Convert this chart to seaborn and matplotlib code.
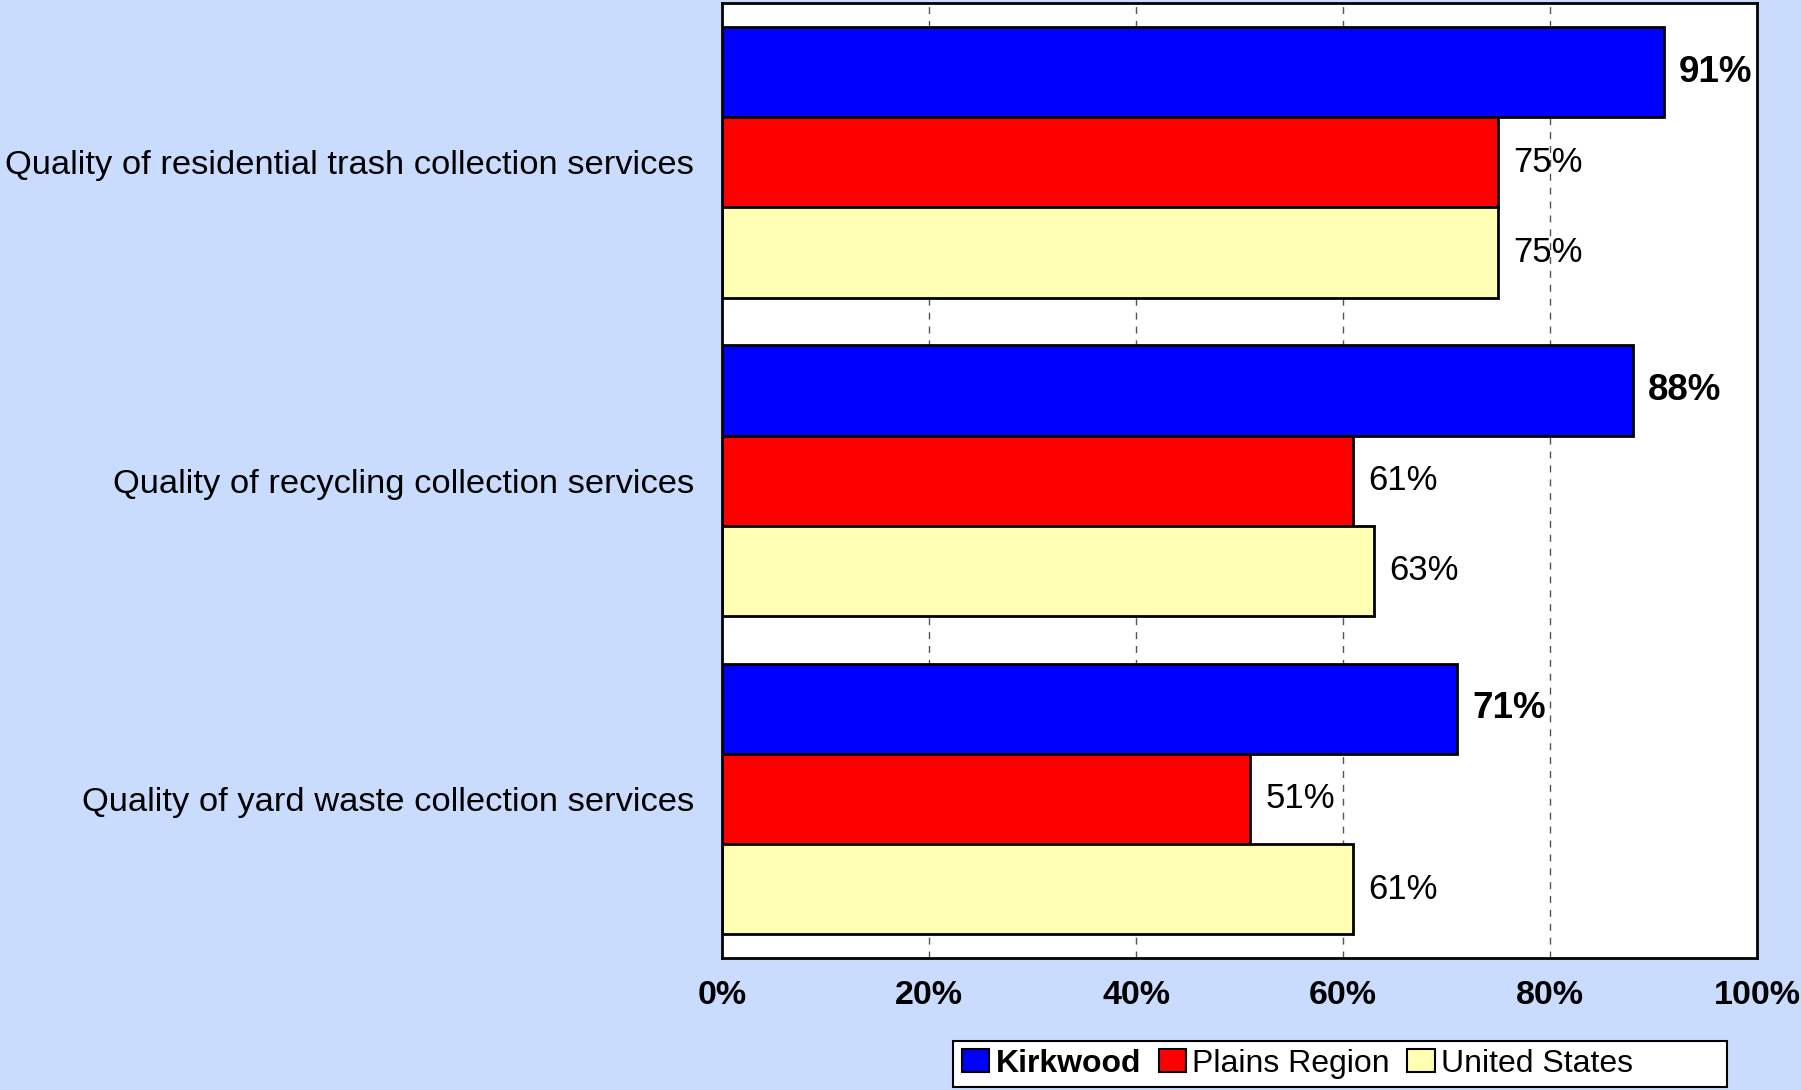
import matplotlib
matplotlib.use("Agg")
import matplotlib.pyplot as plt
import seaborn as sns
import pandas as pd
from matplotlib.patches import Patch, Rectangle

# Survey results: percent rating each service as excellent or good
services = [
    "Quality of residential trash collection services",
    "Quality of recycling collection services",
    "Quality of yard waste collection services",
]
areas = ["Kirkwood", "Plains Region", "United States"]
kirkwood = [91, 88, 71]
plains_region = [75, 61, 51]
united_states = [75, 63, 61]
x_ticks = [0, 20, 40, 60, 80, 100]
x_tick_labels = ["0%", "20%", "40%", "60%", "80%", "100%"]

colors = ["#0000FF", "#FF0000", "#FFFFB3"]
bg = "#C9DCFE"

rows = []
for area, vals in zip(areas, [kirkwood, plains_region, united_states]):
    for svc, v in zip(services, vals):
        rows.append({"Service": svc, "Area": area, "Percent": v})
df = pd.DataFrame(rows)

sns.set_theme(style="white")
plt.rcParams["font.family"] = ["Liberation Sans", "DejaVu Sans"]
plt.rcParams["text.color"] = "black"
plt.rcParams["xtick.color"] = "black"
plt.rcParams["ytick.color"] = "black"

fig = plt.figure(figsize=(18.01, 10.90), dpi=100)
fig.patch.set_facecolor(bg)
ax = fig.add_axes([0.4009, 0.121, 0.5747, 0.876])
ax.set_facecolor("white")

sns.barplot(
    data=df, y="Service", x="Percent", hue="Area", order=services,
    hue_order=areas, palette=colors, orient="h", width=0.85,
    edgecolor="black", linewidth=2, saturation=1, legend=False, ax=ax,
)

ax.set_xlim(0, 100)
ax.set_ylim(2.5, -0.5)
ax.set_xticks(x_ticks)
ax.set_xticklabels(x_tick_labels, fontsize=24.5, fontweight="bold", color="black")
ax.tick_params(axis="x", length=0, pad=16)
ax.tick_params(axis="y", length=0, pad=20, labelsize=24.8, labelcolor="black")
ax.set_xlabel("")
ax.set_ylabel("")

for xv in x_ticks[1:-1]:
    ax.axvline(xv, color="#555555", linestyle=(0, (5, 5)), linewidth=1, zorder=0)

for spine in ax.spines.values():
    spine.set_visible(True)
    spine.set_color("black")
    spine.set_linewidth(2)

# Value labels at the end of each bar
for container, area in zip(ax.containers, areas):
    weight = "bold" if area == "Kirkwood" else "normal"
    size = 26.5 if area == "Kirkwood" else 25
    labels = [f"{int(round(b.get_width()))}%" for b in container]
    ax.bar_label(container, labels=labels, padding=11, fontsize=size,
                 fontweight=weight, color="black")

# Legend box with a fixed width, entries packed to the left
box = Rectangle((0.5293, 0.003), 0.4298, 0.042, transform=fig.transFigure,
                facecolor="white", edgecolor="black", linewidth=1.5, zorder=1)
fig.patches.append(box)

handles = [Patch(facecolor=c, edgecolor="black", linewidth=1.5) for c in colors]
leg = fig.legend(
    handles, areas, loc="center left", bbox_to_anchor=(0.5343, 0.024),
    ncol=3, fontsize=23, frameon=False,
    handlelength=0.85, handleheight=0.7, handletextpad=0.2, columnspacing=0.55,
    borderpad=0.0, borderaxespad=0.0,
)
leg.set_zorder(2)
leg.get_texts()[0].set_fontweight("bold")

fig.savefig("out.png", dpi=100, facecolor=bg)
